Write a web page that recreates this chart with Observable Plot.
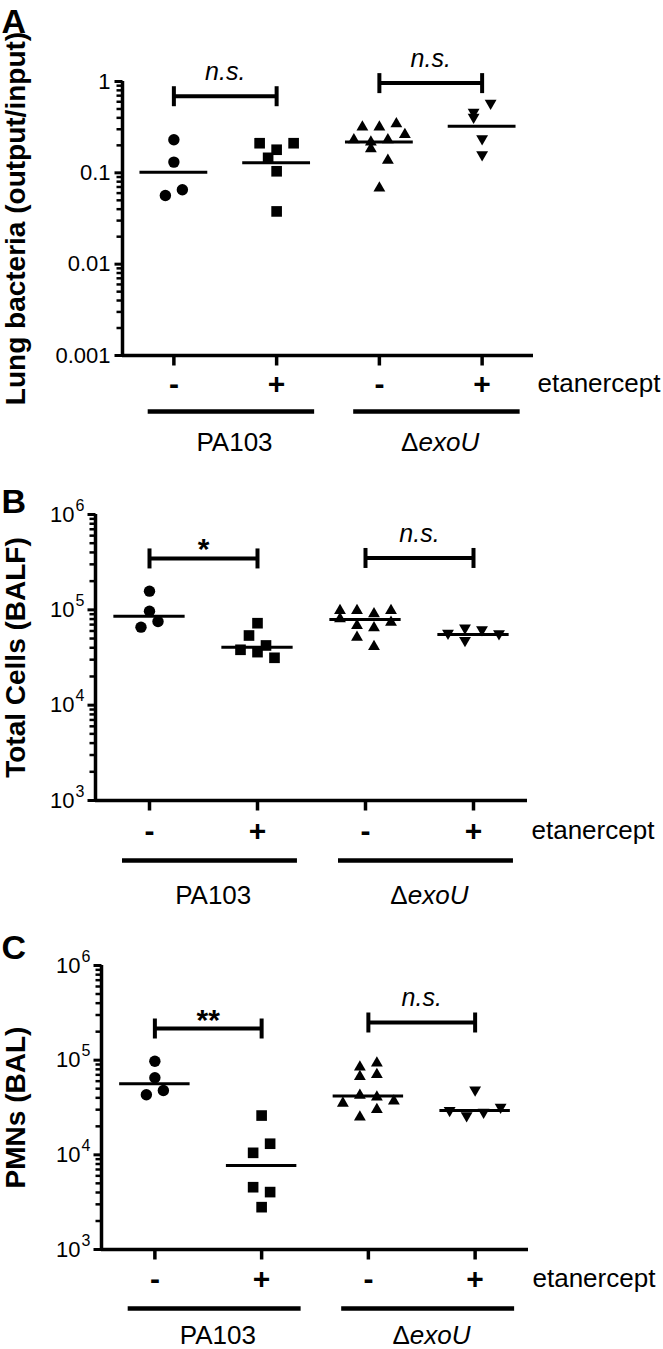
<!DOCTYPE html>
<html><head><meta charset="utf-8">
<script src="https://cdn.jsdelivr.net/npm/d3@7"></script>
<script src="https://cdn.jsdelivr.net/npm/@observablehq/plot@0.6"></script>
<style>
html,body{margin:0;padding:0;background:#fff;}
#chart{position:relative;width:663px;height:1349px;overflow:hidden;background:#fff;}
#chart svg{position:absolute;left:0;}
</style></head><body><div id="chart"></div>
<script>
// ---------------- data ----------------
const treatment = ["-", "+", "-", "+"];
const strains = ["PA103", "ΔexoU"];
const treatmentLabel = "etanercept";

const lungTicks = [0.001, 0.01, 0.1, 1];
const lungTickLabels = ["0.001", "0.01", "0.1", "1"];
const countTicks = [1e3, 1e4, 1e5, 1e6];
const countTickLabels = ["10", "10", "10", "10"];
const countTickExponents = ["3", "4", "5", "6"];

// A: Lung bacteria (output/input)
const lungPA103Ctrl = [0.230, 0.131, 0.0565, 0.0652];
const lungPA103Etan = [0.211, 0.179, 0.211, 0.146, 0.104, 0.0378];
const lungExoUCtrl = [0.316, 0.316, 0.344, 0.230, 0.217, 0.230, 0.263, 0.183, 0.137, 0.0679];
const lungExoUEtan = [0.461, 0.579, 0.407, 0.236, 0.158];
const lungCenter = [0.1016, 0.129, 0.217, 0.324];
const lungBracket = [0.69, 0.96];
const lungSig = ["n.s.", "n.s."];

// B: Total Cells (BALF)
const cellsPA103Ctrl = [1.57e5, 9.68e4, 6.58e4, 7.55e4];
const cellsPA103Etan = [7.24e4, 5.38e4, 3.81e4, 3.60e4, 4.23e4, 3.14e4];
const cellsExoUCtrl = [9.84e4, 9.84e4, 9.09e4, 9.84e4, 8.05e4, 6.85e4, 6.48e4, 7.41e4, 5.16e4, 4.12e4];
const cellsExoUEtan = [5.69e4, 6.48e4, 6.18e4, 5.61e4, 4.77e4];
const cellsCenter = [8.57e4, 4.04e4, 7.93e4, 5.51e4];
const cellsBracket = [3.46e5, 3.5e5];
const cellsSig = ["*", "n.s."];

// C: PMNs (BAL)
const pmnPA103Ctrl = [9.75e4, 6.52e4, 4.31e4, 4.79e4];
const pmnPA103Etan = [2.60e4, 1.05e4, 1.31e4, 4.55e3, 4.04e3, 2.80e3];
const pmnExoUCtrl = [8.43e4, 9.29e4, 6.72e4, 7.06e4, 3.51e4, 4.24e4, 4.07e4, 3.69e4, 2.50e4, 3.01e4];
const pmnExoUEtan = [2.94e4, 2.60e4, 2.82e4, 3.18e4, 4.86e4];
const pmnCenter = [5.65e4, 7.71e3, 4.19e4, 2.94e4];
const pmnBracket = [2.16e5, 2.50e5];
const pmnSig = ["**", "n.s."];

// ---------------- helpers ----------------
const FONT = '"Liberation Sans", Arial, Helvetica, sans-serif';
const SQ3 = Math.sqrt(3);
const triangleDown = {draw(ctx, size) {
  const y = Math.sqrt(size / (SQ3 * 3));
  ctx.moveTo(0, 2 * y); ctx.lineTo(-SQ3 * y, -y); ctx.lineTo(SQ3 * y, -y); ctx.closePath();
}};
const vBar = len => ({draw(ctx) { ctx.moveTo(0, -len); ctx.lineTo(0, len); }});
const downBar = len => ({draw(ctx) { ctx.moveTo(0, 0); ctx.lineTo(0, len); }});
const leftBar = len => ({draw(ctx) { ctx.moveTo(-len, 0); ctx.lineTo(0, 0); }});

// scatter-column layout: points close in y are spread side by side
function swarm(values, ypx, S, B) {
  const n = values.length, py = values.map(ypx);
  const idx = d3.range(n).sort((a, b) => py[a] - py[b] || a - b);
  const rows = []; let cur = null;
  for (const i of idx) {
    if (cur && py[i] - py[cur[0]] <= B && cur.length < 4) cur.push(i);
    else { cur = [i]; rows.push(cur); }
  }
  const off = new Array(n).fill(0);
  let alt = 0, prev = [];
  for (const row of rows) {
    const m = row.slice().sort((a, b) => a - b);
    if (m.length === 1) {
      const i = m[0];
      if (prev.some(j => Math.abs(off[j]) < 9 && Math.abs(py[i] - py[j]) < 12)) off[i] = (alt++ % 2 === 0 ? -1 : 1) * S / 2;
    } else m.forEach((i, k) => off[i] = (k - (m.length - 1) / 2) * S);
    prev = m;
  }
  return off;
}

function minorTicks(domain) {
  const out = [];
  const lo = Math.round(Math.log10(domain[0])), hi = Math.round(Math.log10(domain[1]));
  for (let e = lo; e < hi; e++) for (let k = 2; k <= 9; k++) out.push(k * Math.pow(10, e));
  return out;
}

function panel(c) {
  const width = 663;
  const unit = (width - c.ml - c.mr) / 4;
  const ypx = d3.scaleLog().domain(c.domain).range([c.height - c.mb, c.mt]);
  const ymin = c.domain[0];
  const symbols = ["circle", "square", "triangle", triangleDown];
  const radii = [5.7, 6.0, 4.4, 4.4];
  const cats = treatment.map((t, i) => ({t, x: i + 0.5}));
  const groups = strains.map((s, k) => ({s, x1: 2 * k + 0.25, x2: 2 * k + 1.87, xc: 2 * k + 1.09}));
  const centers = c.center.map((v, i) => ({v, x: i + 0.5}));
  const br = c.bracket.map((v, k) => ({v, a: 2 * k + 0.5, b: 2 * k + 1.5, s: c.sig[k]}));
  const brEnds = br.flatMap(d => [{x: d.a, v: d.v}, {x: d.b, v: d.v}]);
  const sup = c.tickSup;

  const marks = [];
  c.groups.forEach((vals, g) => {
    const off = swarm(vals, ypx, 17, 10);
    const pts = vals.map((v, i) => ({v, x: g + 0.5 + off[i] / unit}));
    marks.push(Plot.dot(pts, {x: "x", y: "v", symbol: symbols[g], r: radii[g], fill: "black", stroke: "none"}));
  });
  marks.push(
    Plot.ruleY(centers, {x1: d => d.x - 0.33, x2: d => d.x + 0.33, y: "v", strokeWidth: 3}),
    // axes
    Plot.ruleX([0], {strokeWidth: 3.5}),
    Plot.ruleY([ymin], {strokeWidth: 3.5}),
    Plot.dot(minorTicks(c.domain), {x: () => 0, y: d => d, symbol: leftBar(6), r: 1, fill: "none", stroke: "black", strokeWidth: 2.5}),
    Plot.dot(c.ticks, {x: () => 0, y: d => d, symbol: leftBar(8), r: 1, fill: "none", stroke: "black", strokeWidth: 3}),
    Plot.text(c.ticks, {y: d => d, text: (d, i) => c.tickLabels[i], frameAnchor: "left", dx: sup ? -21 : -12, textAnchor: "end", lineAnchor: "middle", fontSize: 22, fill: "black"}),
    Plot.dot(cats, {x: "x", y: () => ymin, symbol: downBar(10), r: 1, fill: "none", stroke: "black", strokeWidth: 3.5}),
    Plot.text(cats, {x: "x", text: "t", frameAnchor: "bottom", dy: c.signDy, lineAnchor: "bottom", fontWeight: "bold", fontSize: 30, fill: "black"}),
    Plot.text([treatmentLabel], {frameAnchor: "bottom-right", dx: 4, dy: c.signDy - 2, textAnchor: "start", lineAnchor: "bottom", fontSize: 26, fill: "black"}),
    Plot.ruleY(groups, {x1: "x1", x2: "x2", y: () => ymin, dy: c.lineDy, strokeWidth: 4.5}),
    Plot.text(groups.filter(d => !d.s.startsWith("Δ")), {x: "xc", text: "s", frameAnchor: "bottom", dy: c.labelDy, lineAnchor: "bottom", fontSize: 26, fill: "black"}),
    Plot.text(groups.filter(d => d.s.startsWith("Δ")), {x: "xc", text: () => "Δ", frameAnchor: "bottom", dx: -21.5, dy: c.labelDy, textAnchor: "end", lineAnchor: "bottom", fontSize: 26, fill: "black"}),
    Plot.text(groups.filter(d => d.s.startsWith("Δ")), {x: "xc", text: d => d.s.slice(1), frameAnchor: "bottom", dx: -21.5, dy: c.labelDy, textAnchor: "start", lineAnchor: "bottom", fontSize: 26, fontStyle: "italic", fill: "black"}),
    // significance brackets
    Plot.ruleY(br, {x1: "a", x2: "b", y: "v", strokeWidth: 4}),
    Plot.dot(brEnds, {x: "x", y: "v", symbol: vBar(10), r: 1, fill: "none", stroke: "black", strokeWidth: 4}),
    Plot.text(br.filter(d => d.s.startsWith("n")), {x: d => (d.a + d.b) / 2, y: "v", text: "s", dy: -16, lineAnchor: "bottom", fontSize: 25, fontStyle: "italic", fill: "black"}),
    Plot.text(br.filter(d => !d.s.startsWith("n")), {x: d => (d.a + d.b) / 2, y: "v", text: "s", dy: 1, lineAnchor: "bottom", fontSize: 30, fontWeight: "bold", fill: "black"}),
    // titles
    Plot.text([c.title], {frameAnchor: "left", dx: 16 - c.ml, rotate: -90, textAnchor: "middle", lineAnchor: "middle", fontSize: 28, fontWeight: "bold", fill: "black"}),
    Plot.text([c.letter], {frameAnchor: "top-left", dx: 1 - c.ml, dy: c.letterDy, textAnchor: "start", lineAnchor: "bottom", fontSize: 34, fontWeight: "bold", fill: "black"})
  );
  if (sup) marks.push(
    Plot.text(c.ticks, {y: d => d, text: (d, i) => sup[i], frameAnchor: "left", dx: -11, dy: -9, textAnchor: "end", lineAnchor: "middle", fontSize: 16, fill: "black"})
  );

  const svg = Plot.plot({
    width, height: c.height,
    marginLeft: c.ml, marginRight: c.mr, marginTop: c.mt, marginBottom: c.mb,
    x: {domain: [0, 4], axis: null},
    y: {type: "log", domain: c.domain, axis: null},
    style: {fontFamily: FONT, background: "white", color: "black", overflow: "visible"},
    marks
  });
  svg.style.top = c.top + "px";
  return svg;
}

const chart = document.getElementById("chart");
chart.append(panel({
  top: 0, height: 455, ml: 122, mr: 130, mt: 81, mb: 100,
  domain: [0.001, 1], ticks: lungTicks, tickLabels: lungTickLabels,
  groups: [lungPA103Ctrl, lungPA103Etan, lungExoUCtrl, lungExoUEtan],
  center: lungCenter, bracket: lungBracket, sig: lungSig,
  title: "Lung bacteria (output/input)", letter: "A", letterDy: -49,
  signDy: 38, lineDy: 56, labelDy: 95
}));
chart.append(panel({
  top: 455, height: 455, ml: 95, mr: 136, mt: 59, mb: 110,
  domain: [1e3, 1e6], ticks: countTicks, tickLabels: countTickLabels, tickSup: countTickExponents,
  groups: [cellsPA103Ctrl, cellsPA103Etan, cellsExoUCtrl, cellsExoUEtan],
  center: cellsCenter, bracket: cellsBracket, sig: cellsSig,
  title: "Total Cells (BALF)", letter: "B", letterDy: -2,
  signDy: 40, lineDy: 60, labelDy: 103
}));
chart.append(panel({
  top: 910, height: 439, ml: 101, mr: 135, mt: 55, mb: 100,
  domain: [1e3, 1e6], ticks: countTicks, tickLabels: countTickLabels, tickSup: countTickExponents,
  groups: [pmnPA103Ctrl, pmnPA103Etan, pmnExoUCtrl, pmnExoUEtan],
  center: pmnCenter, bracket: pmnBracket, sig: pmnSig,
  title: "PMNs (BAL)", letter: "C", letterDy: -7,
  signDy: 39, lineDy: 59, labelDy: 94
}));
</script></body></html>
